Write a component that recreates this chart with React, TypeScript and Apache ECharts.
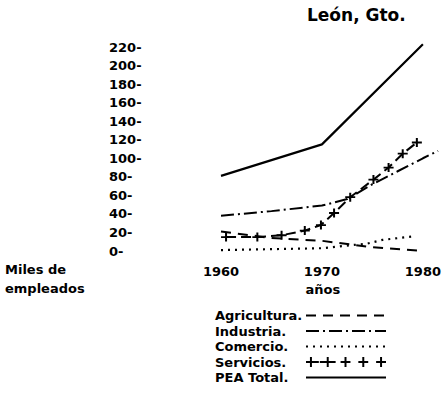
import React, { useEffect, useRef } from 'react';
import * as echarts from 'echarts';

const FONT = '"DejaVu Sans", sans-serif';

// Data (thousands of employees)
const totalYears = [1960, 1970, 1980];
const totalValues = [81, 115, 223];
const agriYears = [1960, 1965, 1970, 1975, 1980];
const agriValues = [21, 14, 11, 4, 0];
const indYears = [1960, 1965, 1970, 1972.5, 1975, 1977.5, 1980, 1981.5];
const indValues = [38, 43, 49, 56, 72, 86, 100, 108];
const comYears = [1960, 1965, 1970, 1974.5, 1976, 1979.3];
const comValues = [1, 2, 3, 8, 12, 16];
const servYears = [1960.5, 1963.6, 1966, 1968.3, 1969.9, 1971.2, 1972.8, 1975.1, 1976.6, 1978, 1979.4];
const servValues = [15, 15, 17, 22, 28, 41, 58, 77, 90, 105, 117];

const seriesNames = ['Agricultura.', 'Industria.', 'Comercio.', 'Servicios.', 'PEA Total.'];
const xMin = 1960;
const xStep = 10;
const yMin = 0;
const yMax = 220;
const yStep = 20;

const pairs = (xs: number[], ys: number[]) => xs.map((x, i) => [x, ys[i]]);

const plusSymbol = 'path://M0,4L10,4L10,6L0,6Z M4,0L6,0L6,10L4,10Z';

function legendCrosses(): string {
  const centers = [5, 22, 40, 58, 76];
  let d = '';
  centers.forEach((c, i) => {
    const half = i < 2 ? 8 : 5;
    d += `M${Math.max(0, c - half)},5L${c + half},5L${c + half},7L${Math.max(0, c - half)},7Z `;
    d += `M${c - 1},1L${c + 1},1L${c + 1},11L${c - 1},11Z `;
  });
  return 'path://' + d.trim();
}

export default function App() {
  const ref = useRef<HTMLDivElement>(null);

  useEffect(() => {
    if (!ref.current) return;
    const chart = echarts.init(ref.current, undefined, { renderer: 'svg' });
    const black = '#000';
    const labelStyle = { fontFamily: FONT, fontWeight: 'bold' as const, fontSize: 13, color: black };

    chart.setOption({
      animation: false,
      backgroundColor: '#fff',
      title: {
        text: 'León, Gto.',
        left: 307,
        top: 6,
        padding: 0,
        textStyle: { fontFamily: FONT, fontWeight: 'bold', fontSize: 17, color: black },
      },
      grid: { left: 221, right: 0, top: 47, bottom: 152 },
      xAxis: {
        type: 'value',
        min: xMin,
        max: 1981.55,
        interval: xStep,
        axisLine: { show: false },
        axisTick: { show: false },
        splitLine: { show: false },
        axisLabel: {
          ...labelStyle,
          margin: 14,
          showMaxLabel: false,
          formatter: (v: number) => (v % xStep === 0 ? String(v) : ''),
        },
        name: 'años',
        nameLocation: 'middle',
        nameGap: 27,
        nameTextStyle: { ...labelStyle, padding: [0, 14, 0, 0] },
      },
      yAxis: {
        type: 'value',
        min: yMin,
        max: yMax,
        interval: yStep,
        axisLine: { show: false },
        axisTick: { show: false },
        splitLine: { show: false },
        axisLabel: {
          ...labelStyle,
          align: 'left',
          margin: 112,
          formatter: (v: number) => `${v}-`,
        },
      },
      graphic: [
        {
          type: 'text',
          left: 5,
          top: 260,
          style: {
            text: 'Miles de\nempleados',
            fontFamily: FONT,
            fontWeight: 'bold',
            fontSize: 13,
            lineHeight: 19,
            fill: black,
          },
        },
      ],
      legend: {
        orient: 'vertical',
        left: 215,
        top: 309,
        align: 'right',
        itemWidth: 80,
        itemHeight: 12,
        itemGap: 2.5,
        padding: 0,
        selectedMode: false,
        data: seriesNames.map((name) =>
          name === 'Servicios.'
            ? { name, icon: legendCrosses() }
            : { name, itemStyle: { opacity: 0 } }
        ),
        formatter: (name: string) => `{t|${name}}`,
        textStyle: {
          rich: {
            t: { width: 86, align: 'left', ...labelStyle, lineHeight: 14 },
          },
        },
      },
      series: [
        {
          name: seriesNames[0],
          type: 'line',
          data: pairs(agriYears, agriValues),
          symbol: 'none',
          clip: false,
          lineStyle: { color: black, width: 2, type: [10, 7] },
          itemStyle: { color: black },
        },
        {
          name: seriesNames[1],
          type: 'line',
          data: pairs(indYears, indValues),
          symbol: 'none',
          clip: false,
          lineStyle: { color: black, width: 2, type: [13, 4, 2, 4] },
          itemStyle: { color: black },
        },
        {
          name: seriesNames[2],
          type: 'line',
          data: pairs(comYears, comValues),
          symbol: 'none',
          clip: false,
          lineStyle: { color: black, width: 2.2, type: [2, 5] },
          itemStyle: { color: black },
        },
        {
          name: seriesNames[3],
          type: 'line',
          data: pairs(servYears, servValues),
          symbol: plusSymbol,
          symbolSize: [10, 9],
          showSymbol: true,
          clip: false,
          lineStyle: { color: black, width: 2, type: [10, 5] },
          itemStyle: { color: black },
        },
        {
          name: seriesNames[4],
          type: 'line',
          data: pairs(totalYears, totalValues),
          symbol: 'none',
          clip: false,
          lineStyle: { color: black, width: 2.2, type: 'solid' },
          itemStyle: { color: black },
        },
      ],
    });

    return () => chart.dispose();
  }, []);

  return (
    <div
      ref={ref}
      style={{ position: 'fixed', left: 0, top: 0, width: 444, height: 403, background: '#fff' }}
    />
  );
}
